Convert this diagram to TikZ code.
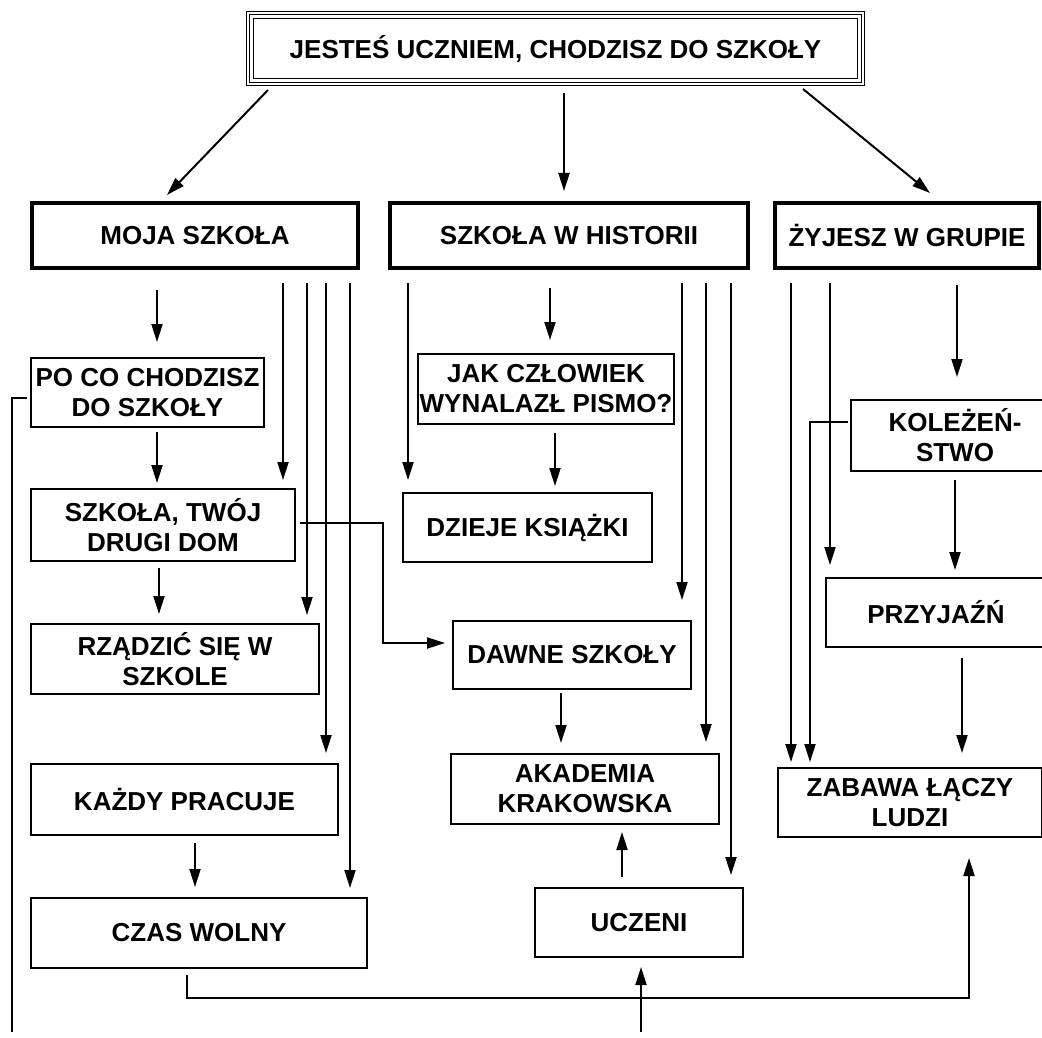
\documentclass[tikz,border=0pt]{standalone}
\usepackage{fontspec}
\setmainfont{Liberation Sans}
\usetikzlibrary{arrows.meta}

\begin{document}
\begin{tikzpicture}[x=1pt,y=-1pt,
	box/.style={draw, line width=2pt, outer sep=0pt, inner sep=2pt, align=center,
		font=\bfseries\fontsize{26}{30}\selectfont},
	mainbox/.style={box, line width=4.5pt, minimum height=65pt},
	arr/.style={line width=2pt, -{Triangle[length=18pt,width=11pt]}},
	link/.style={line width=2pt}]
	\useasboundingbox (0,0) rectangle (1042,1038);
	% title
	\node[box, double, double distance=1.5pt, line width=1pt, minimum width=615pt, minimum height=71pt] (top) at (555.5,48.5) {JESTEŚ UCZNIEM, CHODZISZ DO SZKOŁY};
	\draw[line width=1pt] ([shift={(5.25pt,-5.25pt)}]top.north west) rectangle ([shift={(-5.25pt,5.25pt)}]top.south east);
	\node[mainbox, minimum width=326pt] (moja) at (195,235.5) {MOJA SZKOŁA};
	\node[mainbox, minimum width=358pt] (hist) at (569,235.5) {SZKOŁA W HISTORII};
	\node[mainbox, minimum width=264pt] (grupa) at (907,235.5) {ŻYJESZ W GRUPIE};
	% left column
	\node[box, minimum width=233pt, minimum height=69pt] (pocco) at (147.5,392.5) {PO CO CHODZISZ\\DO SZKOŁY};
	\node[box, minimum width=264pt, minimum height=72pt] (dom) at (163,525) {SZKOŁA, TWÓJ\\DRUGI DOM};
	\node[box, minimum width=288pt, minimum height=70pt] (rzadz) at (175,659) {RZĄDZIĆ SIĘ W\\SZKOLE};
	\node[box, minimum width=307pt, minimum height=71pt] (kazdy) at (184.5,799.5) {KAŻDY PRACUJE};
	\node[box, minimum width=336pt, minimum height=70pt] (czas) at (199,933) {CZAS WOLNY};
	% middle column
	\node[box, minimum width=252pt, minimum height=70pt] (pismo) at (546,389) {JAK CZŁOWIEK\\WYNALAZŁ PISMO?};
	\node[box, minimum width=249pt, minimum height=69pt] (dzieje) at (527.5,527.5) {DZIEJE KSIĄŻKI};
	\node[box, minimum width=238pt, minimum height=68pt] (dawne) at (572,655) {DAWNE SZKOŁY};
	\node[box, minimum width=268pt, minimum height=70pt] (akad) at (585,789) {AKADEMIA\\KRAKOWSKA};
	\node[box, minimum width=208pt, minimum height=69pt] (uczeni) at (639,922.5) {UCZENI};
	% right column
	\node[box, minimum width=208pt, minimum height=71pt] (kolez) at (955,435.5) {KOLEŻEŃ-\\STWO};
	\node[box, minimum width=220pt, minimum height=69pt] (przyj) at (936,612.5) {PRZYJAŹŃ};
	\node[box, minimum width=264pt, minimum height=69pt] (zabawa) at (910,802.5) {ZABAWA ŁĄCZY\\LUDZI};
	\coordinate (leftend) at (12,1032);
	\coordinate (botstart) at (641,1032);

	\draw[arr] ([xshift=20pt,yshift=-6pt]top.south west) -- ([xshift=-28pt,yshift=8pt]moja.north);
	\draw[arr] ([xshift=8.5pt,yshift=-9pt]top.south) -- ([xshift=-5pt,yshift=12pt]hist.north);
	\draw[arr] ([xshift=-60pt,yshift=-5pt]top.south east) -- ([xshift=23pt,yshift=10pt]grupa.north);

	\draw[arr] ([xshift=-38pt,yshift=-22pt]moja.south) -- ([xshift=9.5pt,yshift=16pt]pocco.north);
	\draw[arr] ([xshift=9.5pt,yshift=-5pt]pocco.south) -- ([xshift=-6pt,yshift=6pt]dom.north);
	\draw[arr] ([xshift=-4pt,yshift=-7pt]dom.south) -- ([xshift=-16pt,yshift=10pt]rzadz.north);
	\draw[arr] ([xshift=10.5pt,yshift=-8pt]kazdy.south) -- ([xshift=-4pt,yshift=11pt]czas.north);
	\draw[arr] ([xshift=-75pt,yshift=-15pt]moja.south east) -- ([xshift=-12pt,yshift=9pt]dom.north east);
	\draw[arr] ([xshift=-51pt,yshift=-15pt]moja.south east) -- ([xshift=-12pt,yshift=9pt]rzadz.north east);
	\draw[arr] ([xshift=-32pt,yshift=-15pt]moja.south east) -- ([xshift=-12pt,yshift=11pt]kazdy.north east);
	\draw[arr] ([xshift=-8pt,yshift=-15pt]moja.south east) -- ([xshift=-17pt,yshift=10pt]czas.north east);
	\draw[arr] ([xshift=5pt,yshift=2pt]dom.east) -- ++(83,0) |- ([xshift=-8pt,yshift=12pt]dawne.west);
	\draw[link] ([xshift=-4pt,yshift=-5.5pt]pocco.west) -| (leftend);
	\draw[arr] ([xshift=-12pt,yshift=-7pt]czas.south) -- ++(0,23) -| ([xshift=59pt,yshift=-21pt]zabawa.south);
	\draw[arr] (botstart) -- ([xshift=2pt,yshift=-10pt]uczeni.south);

	\draw[arr] ([xshift=18pt,yshift=-15pt]hist.south west) -- ([xshift=5pt,yshift=13pt]dzieje.north west);
	\draw[arr] ([xshift=-19pt,yshift=-20pt]hist.south) -- ([xshift=4pt,yshift=14pt]pismo.north);
	\draw[arr] ([xshift=9pt,yshift=-9pt]pismo.south) -- ([xshift=27.5pt,yshift=7pt]dzieje.north);
	\draw[arr] ([xshift=-66pt,yshift=-15pt]hist.south east) -- ([xshift=-9pt,yshift=21pt]dawne.north east);
	\draw[arr] ([xshift=-42pt,yshift=-15pt]hist.south east) -- ([xshift=-13pt,yshift=12pt]akad.north east);
	\draw[arr] ([xshift=-17pt,yshift=-15pt]hist.south east) -- ([xshift=-12pt,yshift=13pt]uczeni.north east);
	\draw[arr] ([xshift=-11pt,yshift=-4pt]dawne.south) -- ([xshift=-24pt,yshift=11pt]akad.north);
	\draw[arr] ([xshift=-17pt,yshift=11pt]uczeni.north) -- ([xshift=37pt,yshift=-8pt]akad.south);

	\draw[arr] ([xshift=16pt,yshift=-15pt]grupa.south west) -- ([xshift=13pt,yshift=6pt]zabawa.north west);
	\draw[arr] ([xshift=55pt,yshift=-15pt]grupa.south west) -- ([xshift=4pt,yshift=13pt]przyj.north west);
	\draw[arr] ([xshift=50pt,yshift=-17pt]grupa.south) -- ([xshift=2pt,yshift=23pt]kolez.north);
	\draw[arr] ([xshift=-3pt,yshift=13.5pt]kolez.west) -| ([xshift=32pt,yshift=6pt]zabawa.north west);
	\draw[arr] ([yshift=-9pt]kolez.south) -- ([xshift=19pt,yshift=8pt]przyj.north);
	\draw[arr] ([xshift=26pt,yshift=-11pt]przyj.south) -- ([xshift=52pt,yshift=15pt]zabawa.north);
\end{tikzpicture}
\end{document}
